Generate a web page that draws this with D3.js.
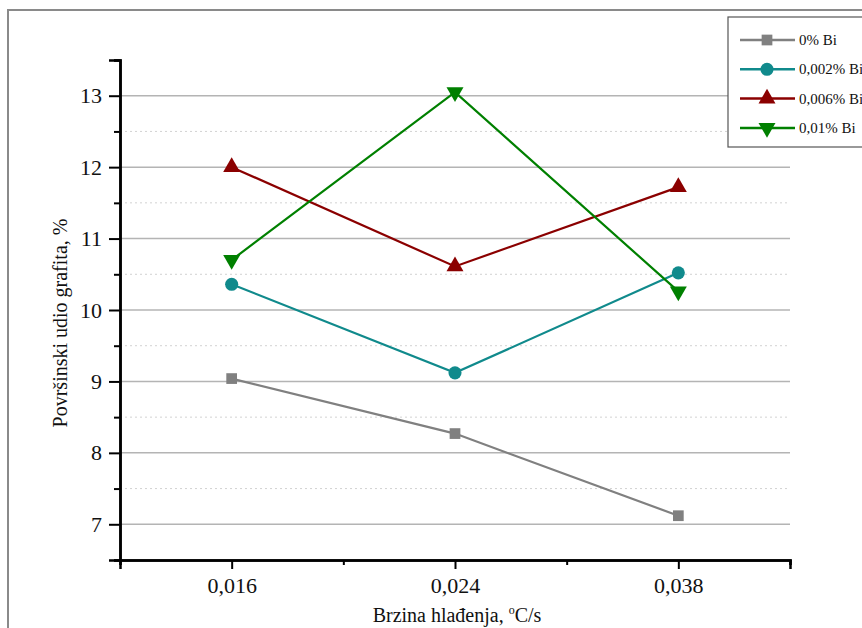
<!DOCTYPE html>
<html>
<head>
<meta charset="utf-8">
<script src="https://cdn.jsdelivr.net/npm/d3@7"></script>
<style>
  body { margin: 0; background: #fff; }
  svg text { font-family: "Liberation Serif", "Times New Roman", serif; }
</style>
</head>
<body>
<div id="chart"></div>
<script>
// cooling rate categories
var categories = ["0,016", "0,024", "0,038"];
var seriesNames = ["0% Bi", "0,002% Bi", "0,006% Bi", "0,01% Bi"];
var bi0   = [9.04, 8.27, 7.12];
var bi002 = [10.36, 9.12, 10.52];
var bi006 = [12.0, 10.61, 11.72];
var bi01  = [10.70, 13.05, 10.26];
var yTicks = [7, 8, 9, 10, 11, 12, 13];

var colors = ["#808080", "#108a8c", "#8b0000", "#008000"];
var symbols = ["square", "circle", "triangleUp", "triangleDown"];
var allSeries = [bi0, bi002, bi006, bi01];

var W = 862, H = 628;
var margin = {top: 60, right: 72, bottom: 68, left: 120},
    width = W - margin.left - margin.right,
    height = H - margin.top - margin.bottom;

var svg = d3.select("#chart").append("svg")
    .attr("width", W)
    .attr("height", H);

// outer frame (cut off at right / bottom like the original)
svg.append("rect")
    .attr("x", 8).attr("y", 10)
    .attr("width", 900).attr("height", 700)
    .attr("fill", "none")
    .attr("stroke", "#8a8a8a")
    .attr("stroke-width", 2);

var g = svg.append("g")
    .attr("transform", "translate(" + margin.left + "," + margin.top + ")");

// x: category index on linear scale, half step padding
var x = d3.scaleLinear().domain([0.5, categories.length + 0.5]).range([0, width]);
var y = d3.scaleLinear().domain([6.5, 13.5]).range([height, 0]);

// grid lines
g.selectAll(".grid-major")
    .data(yTicks)
    .enter().append("line")
    .attr("x1", 0).attr("x2", width)
    .attr("y1", function (d) { return y(d); })
    .attr("y2", function (d) { return y(d); })
    .attr("stroke", "#b4b4b4")
    .attr("stroke-width", 1.5);

g.selectAll(".grid-minor")
    .data(d3.range(7.5, 13.5, 1))
    .enter().append("line")
    .attr("x1", 0).attr("x2", width)
    .attr("y1", function (d) { return y(d); })
    .attr("y2", function (d) { return y(d); })
    .attr("stroke", "#d2d2d2")
    .attr("stroke-width", 1)
    .attr("stroke-dasharray", "2,3");

// Y axis: major + minor ticks
g.append("g")
    .call(d3.axisLeft(y).tickValues(yTicks).tickSize(11).tickPadding(7).tickFormat(d3.format("d")));
g.append("g")
    .call(d3.axisLeft(y).tickValues(d3.range(6.5, 14, 1)).tickSize(6).tickFormat(""));

// X axis
g.append("g")
    .attr("transform", "translate(0," + height + ")")
    .call(d3.axisBottom(x).tickValues([1, 2, 3]).tickSize(9).tickPadding(8)
        .tickFormat(function (d) { return categories[d - 1]; }));
g.append("g")
    .attr("transform", "translate(0," + height + ")")
    .call(d3.axisBottom(x).tickValues([0.5, 1.5, 2.5, 3.5]).tickSize(5).tickFormat(""));

g.selectAll(".domain").attr("stroke", "#000").attr("stroke-width", 2.5);
g.selectAll(".tick line").attr("stroke", "#000").attr("stroke-width", 2);
g.selectAll(".tick text")
    .attr("fill", "#111")
    .style("font-size", "22px");

// axis titles
g.append("text")
    .attr("transform", "rotate(-90)")
    .attr("x", -263)
    .attr("y", -53)
    .style("text-anchor", "middle")
    .style("font-size", "20px")
    .attr("fill", "#111")
    .text("Površinski udio grafita, %");

var xt = g.append("text")
    .attr("x", width / 2 + 2)
    .attr("y", height + 62)
    .style("text-anchor", "middle")
    .style("font-size", "20px")
    .attr("fill", "#111");
xt.append("tspan").text("Brzina hlađenja, ");
xt.append("tspan").attr("dy", -8).style("font-size", "12px").text("o");
xt.append("tspan").attr("dy", 8).text("C/s");

// marker shapes
function symbolPath(kind) {
    if (kind === "square") return d3.symbol().type(d3.symbolSquare).size(115)();
    if (kind === "circle") return d3.symbol().type(d3.symbolCircle).size(135)();
    return d3.symbol().type(d3.symbolTriangle).size(125)();
}
function symbolRot(kind) { return kind === "triangleDown" ? " rotate(180)" : ""; }

var line = d3.line()
    .x(function (d, i) { return x(i + 1); })
    .y(function (d) { return y(d); });

allSeries.forEach(function (vals, s) {
    g.append("path")
        .datum(vals)
        .attr("fill", "none")
        .attr("stroke", colors[s])
        .attr("stroke-width", 2.2)
        .attr("d", line);
});
allSeries.forEach(function (vals, s) {
    g.selectAll(".pt" + s)
        .data(vals)
        .enter().append("path")
        .attr("d", symbolPath(symbols[s]))
        .attr("transform", function (d, i) {
            return "translate(" + x(i + 1) + "," + y(d) + ")" + symbolRot(symbols[s]);
        })
        .attr("fill", colors[s]);
});

// legend
var lg = svg.append("g");
lg.append("rect")
    .attr("x", 728).attr("y", 17)
    .attr("width", 200).attr("height", 130)
    .attr("fill", "#fff")
    .attr("stroke", "#555")
    .attr("stroke-width", 1.2);

seriesNames.forEach(function (name, s) {
    var ly = 40 + s * 29.3;
    lg.append("line")
        .attr("x1", 740).attr("x2", 795)
        .attr("y1", ly).attr("y2", ly)
        .attr("stroke", colors[s])
        .attr("stroke-width", 2.5);
    lg.append("path")
        .attr("d", symbolPath(symbols[s]))
        .attr("transform", "translate(767," + ly + ")" + symbolRot(symbols[s]))
        .attr("fill", colors[s]);
    lg.append("text")
        .attr("x", 799)
        .attr("y", ly + 5)
        .style("font-size", "15px")
        .attr("fill", "#111")
        .text(name);
});
</script>
</body>
</html>
